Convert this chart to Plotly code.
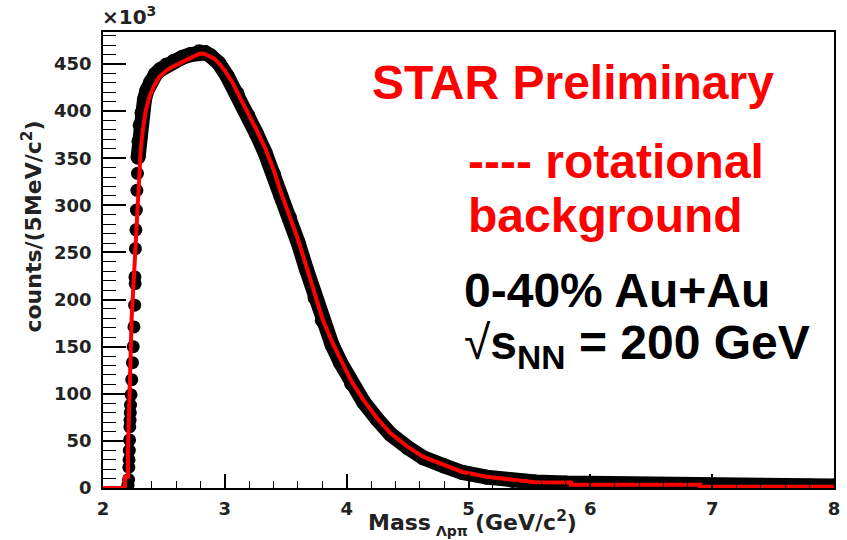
import plotly.graph_objects as go

# ---------------- data (counts in units of 10^3) ----------------
# rotational background (red histogram line)
bg_mass = [2.00, 2.18, 2.18, 2.205, 2.205, 2.215, 2.225, 2.235, 2.250, 2.265, 2.280, 2.295,
           2.310, 2.327, 2.350, 2.380, 2.420, 2.460, 2.520, 2.570, 2.630, 2.680, 2.740, 2.790,
           2.830, 2.870, 2.910, 2.950, 3.000, 3.060, 3.120, 3.190, 3.260, 3.330, 3.400, 3.460,
           3.530, 3.600, 3.670, 3.740, 3.800, 3.880, 3.950, 4.040, 4.140, 4.250, 4.360, 4.500,
           4.630, 4.800, 4.950, 5.150, 5.360, 5.550, 5.840, 5.840, 6.900, 6.900, 8.000]
bg_counts = [0.0, 0.0, 12.0, 12.0, 40.0, 90.0, 140.0, 180.0, 215.0, 255.0, 300.0, 337.0,
             360.0, 380.0, 400.0, 415.0, 427.0, 436.0, 443.0, 447.0, 451.0, 454.0, 458.0, 461.0,
             461.0, 459.0, 456.0, 451.0, 443.0, 431.0, 416.0, 397.0, 380.0, 361.0, 338.0, 314.0,
             290.0, 264.0, 235.0, 205.0, 180.0, 155.0, 136.0, 113.0, 93.0, 74.0, 58.0, 44.0,
             33.0, 24.0, 17.0, 12.0, 8.5, 6.0, 5.8, 3.4, 3.4, 1.4, 1.4]

# same-event data: steep threshold bins (individually visible points)
edge_mass = [2.200, 2.205, 2.210, 2.212, 2.214, 2.216, 2.218, 2.220, 2.222, 2.224, 2.226,
             2.230, 2.236, 2.242, 2.248, 2.254, 2.260, 2.264, 2.262, 2.266, 2.270, 2.274,
             2.278, 2.283, 2.288]
edge_counts = [0.0, 3.0, 9.0, 22.0, 30.0, 40.0, 51.0, 65.0, 72.0, 80.0, 88.0,
               99.0, 115.0, 133.0, 150.0, 171.0, 194.0, 217.0, 224.0, 254.0, 274.0, 295.0,
               316.0, 334.0, 351.0]

# same-event data: dense part of the distribution
data_mass = [2.288, 2.295, 2.305, 2.320, 2.340, 2.360, 2.390, 2.430, 2.470, 2.520, 2.580,
             2.650, 2.720, 2.790, 2.840, 2.880, 2.950, 3.020, 3.100, 3.190, 3.260, 3.330,
             3.400, 3.460, 3.530, 3.600, 3.670, 3.740, 3.800, 3.880, 3.950, 4.040, 4.140,
             4.250, 4.360, 4.500, 4.630, 4.800, 4.950, 5.150, 5.360, 5.550, 5.800, 6.000,
             6.300, 6.600, 6.900, 7.200, 7.500, 7.800, 8.000]
data_counts = [351.0, 368.0, 385.0, 398.0, 412.0, 422.0, 431.0, 439.0, 444.0, 449.0, 453.0,
               457.0, 460.0, 463.0, 462.0, 459.0, 451.0, 437.0, 419.0, 395.0, 376.0, 356.0,
               333.0, 310.0, 287.0, 261.0, 232.0, 202.0, 178.0, 152.0, 133.0, 111.0, 91.0,
               73.0, 57.0, 43.0, 32.0, 23.5, 16.5, 11.5, 8.0, 6.3, 5.2, 4.6,
               4.0, 3.5, 3.0, 2.5, 2.2, 2.0, 2.0]

x_ticks = [2, 3, 4, 5, 6, 7, 8]
y_ticks = [0, 50, 100, 150, 200, 250, 300, 350, 400, 450]

# ---------------- layout geometry ----------------
W, H = 847, 540
L, R, T, B = 103, 7, 32, 52
PW, PH = W - L - R, H - T - B


def px(x):
    return (x - L) / PW


def py(y):
    return (H - B - y) / PH


SMALL = "DejaVu Sans"
BIG = "Liberation Sans, Arial"

fig = go.Figure()

fig.add_trace(go.Scatter(
    x=data_mass, y=data_counts, mode="lines+markers",
    line=dict(color="black", width=15),
    marker=dict(color="black", size=15),
    showlegend=False, hoverinfo="skip"))

fig.add_trace(go.Scatter(
    x=edge_mass, y=edge_counts, mode="markers",
    marker=dict(color="black", size=13),
    showlegend=False, hoverinfo="skip"))

fig.add_trace(go.Scatter(
    x=bg_mass, y=bg_counts, mode="lines",
    line=dict(color="#ff0000", width=4),
    showlegend=False, hoverinfo="skip"))

fig.update_layout(
    width=W, height=H,
    margin=dict(l=L, r=R, t=T, b=B, pad=0),
    paper_bgcolor="white", plot_bgcolor="white",
    showlegend=False,
)

fig.update_xaxes(
    range=[2, 8], tickvals=x_ticks, ticktext=[str(v) for v in x_ticks],
    ticks="inside", ticklen=14, tickwidth=1.5, tickcolor="black",
    minor=dict(dtick=0.2, tick0=2, ticks="inside", ticklen=7, tickwidth=1.2, tickcolor="black"),
    showline=True, linecolor="black", linewidth=1.5, mirror=True,
    showgrid=False, zeroline=False,
    tickfont=dict(family=SMALL, size=18, color="#222", weight="bold"),
    ticklabelstandoff=4,
)
fig.update_yaxes(
    range=[0, 484], tickvals=y_ticks, ticktext=[str(v) for v in y_ticks],
    ticks="inside", ticklen=23, tickwidth=1.5, tickcolor="black",
    minor=dict(dtick=10, tick0=0, ticks="inside", ticklen=13, tickwidth=1.2, tickcolor="black"),
    showline=True, linecolor="black", linewidth=1.5, mirror=True,
    showgrid=False, zeroline=False,
    tickfont=dict(family=SMALL, size=18, color="#222", weight="bold"),
    ticklabelstandoff=6,
)

ann = []


def add(text, x, y, size, color, family=BIG, xanchor="left", angle=0):
    ann.append(dict(text=text, x=px(x), y=py(y), xref="paper", yref="paper",
                    xanchor=xanchor, yanchor="middle", showarrow=False, textangle=angle,
                    font=dict(family=family, size=size, color=color)))


add("<b>STAR Preliminary</b>", 577, 83, 48, "#ff0000", xanchor="center")
add("<b>---- rotational</b>", 469, 161, 48, "#ff0000")
add("<b>background</b>", 469, 215, 48, "#ff0000")
add("<b>0-40% Au+Au</b>", 465, 290, 48, "black")
add("√<b>s<sub>NN</sub> = 200 GeV</b>", 465, 346, 48, "black")

add("<b>×10<sup>3</sup></b>", 100, 16, 20, "#222", family=SMALL)
add("<b>counts/(5MeV/c<sup>2</sup>)</b>", 31, 227, 22, "#222", family=SMALL,
    xanchor="center", angle=-90)
add("<b>Mass</b>", 368, 522, 22, "#222", family=SMALL)
add("<b>Λpπ</b>", 437, 531, 14, "#222", family=SMALL)
add("<b>(GeV/c<sup>2</sup>)</b>", 476, 521, 22, "#222", family=SMALL)

fig.update_layout(annotations=ann)

fig.write_html("out.html")
